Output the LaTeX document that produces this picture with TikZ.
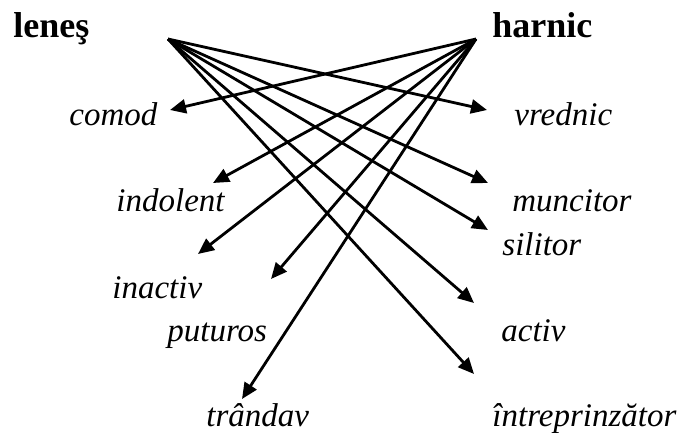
\documentclass[tikz,border=0pt]{standalone}
\usepackage{fontspec}
\setmainfont{Liberation Serif}
\usetikzlibrary{arrows.meta}
\begin{document}
\begin{tikzpicture}[x=0.5pt,y=-0.5pt,
  word/.style={anchor=base west,inner sep=0pt,font=\fontsize{16.5}{20}\selectfont\itshape},
  head/.style={anchor=base west,inner sep=0pt,font=\fontsize{18}{20}\selectfont\bfseries},
  link/.style={line width=1.4pt,-{Triangle[length=8pt,width=7pt]}}]
\useasboundingbox (0,0) rectangle (688,432);
% headings
\node[head] (lenes) at (13,38) {leneş};
\node[head] (harnic) at (492,38) {harnic};
% words
\node[word] (comod) at (69,126) {comod};
\node[word] (indolent) at (116,212) {indolent};
\node[word] (inactiv) at (112,298) {inactiv};
\node[word] (puturos) at (167,341) {puturos};
\node[word] (trandav) at (206,426) {trândav};
\node[word] (vrednic) at (514,126) {vrednic};
\node[word] (muncitor) at (512,212) {muncitor};
\node[word] (silitor) at (502,255) {silitor};
\node[word] (activ) at (501,341) {activ};
\node[word] (intrep) at (492,426) {întreprinzător};
% sources
\coordinate (sL) at (168,39);
\coordinate (sH) at (476,39);
% arrow tips
\coordinate (tcomod) at (170,110);
\coordinate (tindolent) at (213,183);
\coordinate (tinactiv) at (198,254);
\coordinate (tputuros) at (271,279);
\coordinate (ttrandav) at (242,399);
\coordinate (tvrednic) at (487,110);
\coordinate (tmuncitor) at (488,183);
\coordinate (tsilitor) at (488,230);
\coordinate (tactiv) at (474,303);
\coordinate (tintrep) at (474,374);
% connectors
\draw[link] (sL) -- (tvrednic);
\draw[link] (sL) -- (tmuncitor);
\draw[link] (sL) -- (tsilitor);
\draw[link] (sL) -- (tactiv);
\draw[link] (sL) -- (tintrep);
\draw[link] (sH) -- (tcomod);
\draw[link] (sH) -- (tindolent);
\draw[link] (sH) -- (tinactiv);
\draw[link] (sH) -- (tputuros);
\draw[link] (sH) -- (ttrandav);
\end{tikzpicture}
\end{document}
